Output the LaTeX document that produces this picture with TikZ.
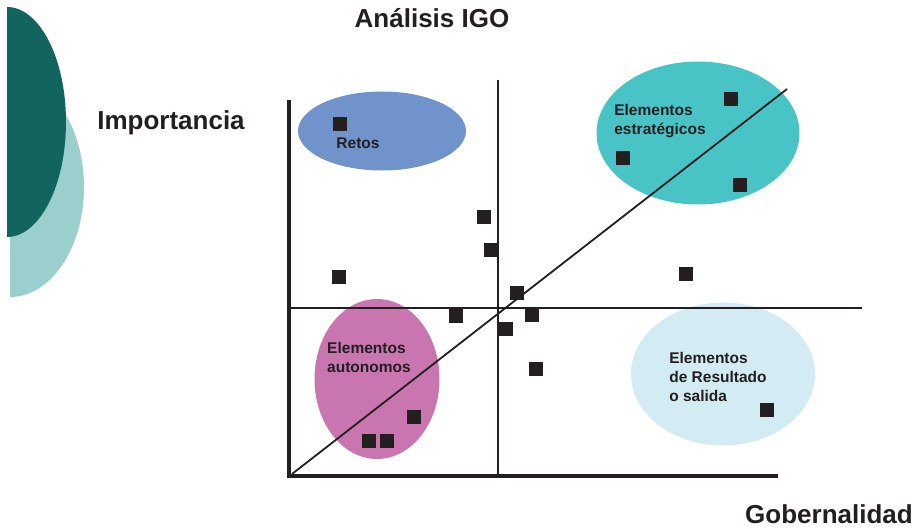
\documentclass[tikz,border=0pt]{standalone}
\usepackage{fontspec}
\setmainfont{Liberation Sans}
\usetikzlibrary{positioning,shapes.geometric}
\definecolor{igoink}{HTML}{231F20}
\definecolor{igodark}{HTML}{12655F}
\definecolor{igolight}{HTML}{9BCFCD}
\definecolor{igoblue}{HTML}{7093CB}
\definecolor{igoteal}{HTML}{48C3C6}
\definecolor{igopink}{HTML}{C975B0}
\definecolor{igopale}{HTML}{D3ECF3}
\begin{document}
\begin{tikzpicture}[x=1pt,y=-1pt,
  zone/.style={ellipse,inner sep=0pt},
  item/.style={fill=igoink,minimum size=14pt,inner sep=0pt},
  tag/.style={font=\fontsize{15.5}{19}\selectfont\bfseries,text=igoink,
              align=left,inner sep=0pt},
  axislabel/.style={font=\fontsize{26}{30}\selectfont\bfseries,text=igoink,inner sep=0pt}]
\useasboundingbox (0,0) rectangle (924,528);
% left ornament
\begin{scope}
  \clip (10,0) rectangle (120,300);
  \fill[igolight] (10,187) ellipse [x radius=74,y radius=110];
\end{scope}
\begin{scope}
  \clip (7,0) rectangle (120,300);
  \fill[igodark] (7,122) ellipse [x radius=59,y radius=115];
\end{scope}
% zones
\node[zone,fill=igoblue,minimum width=168pt,minimum height=79pt] (retos) at (382,131) {};
\node[zone,fill=igoteal,minimum width=203pt,minimum height=143pt] (estrat) at (698,133) {};
\node[zone,fill=igopink,minimum width=125pt,minimum height=160pt] (auton) at (377,379) {};
\node[zone,fill=igopale,minimum width=184pt,minimum height=143pt] (result) at (723,374) {};
% axes
\coordinate (o) at (289,476);
\coordinate (ytop) at (289,100);
\coordinate (xend) at (778,476);
\coordinate (vtop) at (498,80);
\coordinate (vbot) at (498,476);
\coordinate (hleft) at (289,308);
\coordinate (hright) at (862,308);
\coordinate (dstart) at (292,474);
\coordinate (dend) at (787,89);
\draw[igoink,line width=1.8pt] (vtop) -- (vbot);
\draw[igoink,line width=1.8pt] (hleft) -- (hright);
\draw[igoink,line width=1.8pt] (dstart) -- (dend);
\draw[igoink,line width=4pt] (ytop) -- (o) -- (xend);
% items
\foreach \px/\py [count=\i] in {340/124,731/99,623/158,740/185,484/217,491/250,
    339/277,686/274,517/293,456/316,532/315,506/329,536/369,414/417,369/441,
    387/441,767/410}
  \node[item] (sq\i) at (\px,\py) {};
% texts
\node[tag] (tretos) at (358,143) {Retos};
\node[tag] (testrat) at (660,121) {Elementos\\estratégicos};
\node[tag] (tauton) at (369,357) {Elementos\\autonomos};
\node[tag] (tresult) at (718,377) {Elementos\\de Resultado\\o salida};
\node[axislabel] (title) at (432,18) {Análisis IGO};
\node[axislabel] (ylab) at (171,123) {Importancia};
\node[axislabel] (xlab) at (829,514) {Gobernalidad};
\end{tikzpicture}
\end{document}
